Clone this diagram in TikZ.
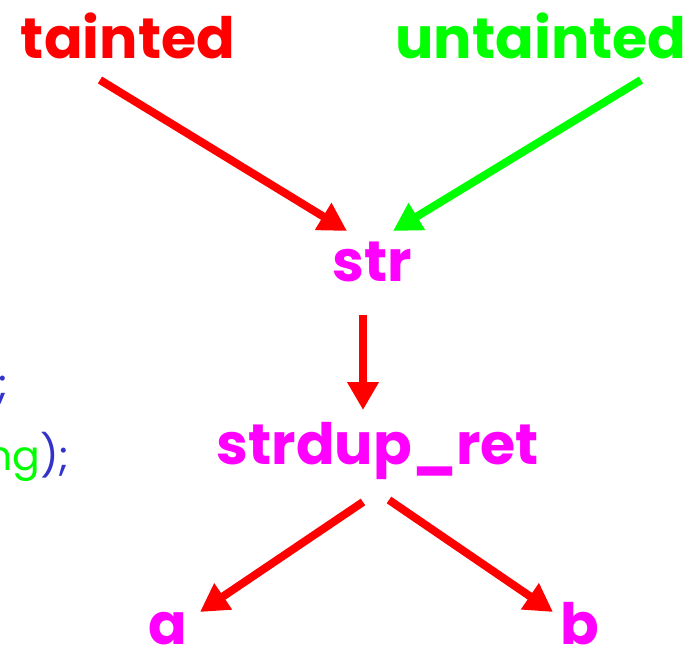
\documentclass[tikz,border=0pt]{standalone}
\usepackage{fontspec}
\setmainfont{Poppins}
\usetikzlibrary{arrows.meta}
\definecolor{tred}{RGB}{255,0,0}
\definecolor{tgreen}{RGB}{0,255,0}
\definecolor{tmag}{RGB}{255,0,255}
\definecolor{tblue}{RGB}{51,51,204}
\tikzset{
  lbl/.style={font=\fontsize{57}{64}\selectfont\bfseries, inner sep=0pt, anchor=base},
  code/.style={font=\fontsize{41}{48}\selectfont, inner sep=0pt, anchor=base west},
  flow/.style={line width=8pt, -{Triangle[length=28pt,width=30pt]}, shorten >=0pt},
}
\begin{document}
\begin{tikzpicture}[x=1pt,y=-1pt]
\useasboundingbox (0,0) rectangle (689,654);
\clip (0,0) rectangle (689,654);
\node[lbl, text=tred] (tainted) at (128,58) {tainted};
\node[lbl, text=tgreen] (untainted) at (541,58) {untainted};
\node[lbl, text=tmag] (str) at (372,281) {str};
\node[lbl, text=tmag] (dup) at (378,464) {strdup\_ret};
\node[lbl, text=tmag] (a) at (168,644) {a};
\node[lbl, text=tmag] (b) at (580,644) {b};
\node[code, text=tblue, anchor=base east] (semi) at (9,398) {;};
\node[code] (call) at (-14,470) {\textcolor{tgreen}{ng}\textcolor{tblue}{);}};
\coordinate (t0) at (100,80);
\coordinate (t1) at (347,231);
\coordinate (u0) at (641,80);
\coordinate (u1) at (393,231);
\coordinate (s0) at (363,315);
\coordinate (s1) at (363,410);
\coordinate (d0) at (363,502);
\coordinate (d1) at (200,612);
\coordinate (e0) at (389,500);
\coordinate (e1) at (553,612);
\draw[flow, tred] (t0) -- (t1);
\draw[flow, tgreen] (u0) -- (u1);
\draw[flow, tred] (s0) -- (s1);
\draw[flow, tred] (d0) -- (d1);
\draw[flow, tred] (e0) -- (e1);
\end{tikzpicture}
\end{document}
